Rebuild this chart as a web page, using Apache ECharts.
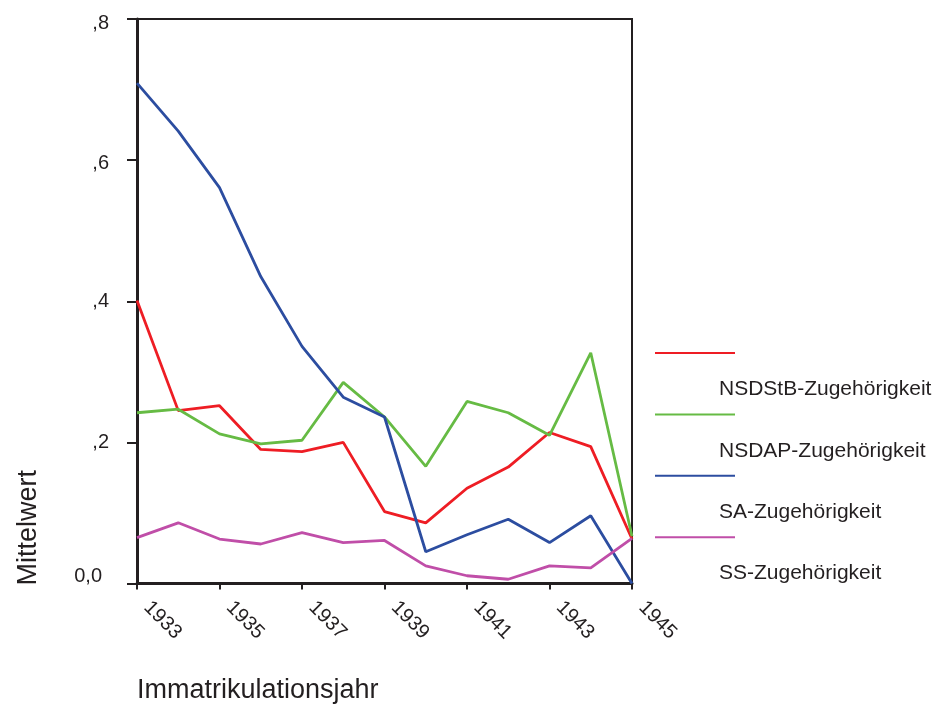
<!DOCTYPE html>
<html>
<head>
<meta charset="utf-8">
<script src="https://cdn.jsdelivr.net/npm/echarts@6/dist/echarts.min.js"></script>
<style>
html,body{margin:0;padding:0;background:#fff;}
#chart{width:938px;height:704px;}
</style>
</head>
<body>
<div id="chart"></div>
<script>
var years = ['1933','1934','1935','1936','1937','1938','1939','1940','1941','1942','1943','1944','1945'];
var seriesNames = ['NSDStB-Zugehörigkeit','NSDAP-Zugehörigkeit','SA-Zugehörigkeit','SS-Zugehörigkeit'];
var nsdstb = [0.401,0.245,0.252,0.190,0.187,0.200,0.102,0.086,0.135,0.165,0.214,0.194,0.063];
var nsdap  = [0.242,0.247,0.212,0.198,0.203,0.285,0.236,0.166,0.258,0.242,0.210,0.327,0.067];
var sa     = [0.709,0.641,0.561,0.435,0.336,0.264,0.236,0.045,0.069,0.091,0.058,0.096,0.000];
var ss     = [0.065,0.086,0.063,0.056,0.072,0.058,0.061,0.025,0.011,0.006,0.025,0.022,0.064];
var yTickLabels = {0:'0,0', 0.2:',2', 0.4:',4', 0.6:',6', 0.8:',8'};
var colors = ['#ee1d24','#66bb44','#2c4da0','#c04ea8'];

var FONT = '"Liberation Sans", Arial, sans-serif';
var TXT = '#231f20';
var allData = [nsdstb, nsdap, sa, ss];

var chart = echarts.init(document.getElementById('chart'), null, {renderer:'canvas'});

var series = seriesNames.map(function(n,i){
  return {
    name: n, type: 'line', data: allData[i], symbol: 'none',
    lineStyle: {color: colors[i], width: 2.8}, itemStyle:{color: colors[i]},
    z: 3, animation: false
  };
});

// legend drawn as separated line / label pairs (as in the original)
var legendGraphics = [];
seriesNames.forEach(function(n,i){
  var y0 = 353 + i*61.4;
  legendGraphics.push({type:'line', shape:{x1:655,y1:y0,x2:735,y2:y0}, style:{stroke:colors[i], lineWidth:2}});
  legendGraphics.push({type:'text', left:719, top:y0+26, style:{text:n, font:'21px ' + FONT, fill:TXT}});
});
legendGraphics.push({type:'text', rotation: Math.PI/2, left: 15, top: 470,
  style:{text:'Mittelwert', font:'27px ' + FONT, fill:TXT}});
legendGraphics.push({type:'text', left: 137, top: 677,
  style:{text:'Immatrikulationsjahr', font:'27px ' + FONT, fill:TXT}});

var yRich = {
  t8: {fontSize:20, fontFamily:FONT, color:TXT, padding:[8,0,0,0]},
  t6: {fontSize:20, fontFamily:FONT, color:TXT, padding:[6,0,0,0]},
  tn: {fontSize:20, fontFamily:FONT, color:TXT},
  t0: {fontSize:20, fontFamily:FONT, color:TXT, padding:[0,7,14,0]}
};

chart.setOption({
  animation: false,
  grid: {left:137, right:306, top:19, bottom:120.5, show:true, borderColor:'#231f20', borderWidth:2, containLabel:false},
  xAxis: {
    type:'category', data: years, boundaryGap:false,
    axisLine:{show:true, lineStyle:{color:'#231f20', width:3}},
    axisTick:{show:true, interval:1, length:6, lineStyle:{color:'#231f20', width:2}},
    axisLabel:{interval:1, rotate:-45, margin:11, padding:[0,0,0,14], fontSize:20, fontFamily:FONT, color:TXT},
    splitLine:{show:false}
  },
  yAxis: {
    type:'value', min:0, max:0.8, interval:0.2,
    axisLine:{show:true, lineStyle:{color:'#231f20', width:3}},
    axisTick:{show:true, length:10, lineStyle:{color:'#231f20', width:2}},
    axisLabel:{margin:28, fontSize:20, fontFamily:FONT, color:TXT, rich: yRich,
      formatter:function(v){
        var k = Math.round(v*10)/10;
        var s = yTickLabels[k];
        if (s === undefined) return '';
        var key = k === 0.8 ? 't8' : (k === 0.6 ? 't6' : (k === 0 ? 't0' : 'tn'));
        return '{' + key + '|' + s + '}';
      }},
    splitLine:{show:false}
  },
  series: series,
  graphic: legendGraphics
});
</script>
</body>
</html>
